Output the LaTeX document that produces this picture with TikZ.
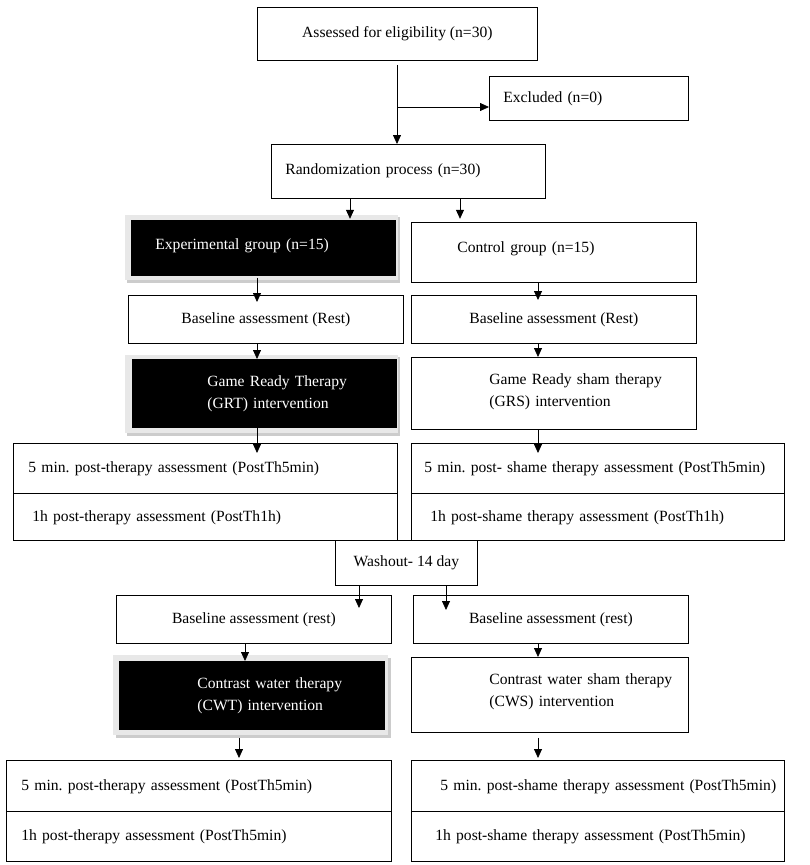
\documentclass[tikz,border=0pt]{standalone}
\usepackage{fontspec}
\setmainfont{Liberation Serif}
\usetikzlibrary{arrows.meta,calc}
\tikzset{
  box/.style={draw, line width=0.8pt, inner sep=0pt, rectangle, anchor=north west,
    font=\fontsize{15.6}{21}\selectfont\frenchspacing, align=center},
  blk/.style={fill=black, text=white},
  lft/.style={align=left},
  arr/.style={line width=0.8pt, -{Triangle[length=9pt,width=8pt]}},
  frm/.style={fill=black!9},
  shd/.style={fill=black!20},
}
\renewcommand{\arraystretch}{1.05}
% \bx{name}{x1}{y1}{w}{h}{style}{text}
\newcommand{\bx}[7]{\node[box,#6,minimum width=#4pt,minimum height=#5pt] (#1) at (#2,#3) {#7};}
% left aligned: \lbx{name}{x1}{y1}{w}{h}{pad}{style}{text}
\newcommand{\lbx}[8]{\node[box,lft,#7,minimum width=#4pt,minimum height=#5pt,text width=#4pt] (#1) at (#2,#3) {\hspace*{#6pt}\begin{tabular}{@{}l@{}}#8\end{tabular}};}
\begin{document}
\begin{tikzpicture}[x=1pt,y=-1pt]
\useasboundingbox (0,0) rectangle (809,865);
\fill[white] (0,0) rectangle (809,865);

% frames behind black boxes
\fill[shd] (127,217) rectangle (400,283);
\fill[frm] (125,215) rectangle (398,280);
\fill[shd] (127,357) rectangle (400,436);
\fill[frm] (125,355) rectangle (398,433);
\fill[shd] (116,658) rectangle (391,738);
\fill[frm] (113,655) rectangle (388,735);

\bx{assess}{257}{7}{280}{53}{}{Assessed for eligibility (n=30)}
\lbx{excl}{489}{76}{199}{44}{14}{}{Excluded (n=0)}
\lbx{rand}{271}{144}{274}{54}{14}{}{Randomization process (n=30)\\[2pt]}

\lbx{exp}{131}{220}{264}{55}{24}{blk}{Experimental group (n=15)\\[6pt]}
\lbx{ctrl}{411}{222}{285}{60}{46}{}{Control group (n=15)\\[8pt]}

\bx{base1}{128}{295}{275}{48}{}{Baseline assessment (Rest)}
\bx{base2}{411}{295}{285}{48}{}{Baseline assessment (Rest)}

\lbx{grt}{132}{359}{264}{68}{75}{blk}{Game Ready Therapy\\(GRT) intervention}
\lbx{grs}{411}{357}{285}{72}{78}{}{Game Ready sham therapy\\(GRS) intervention\\[5pt]}

\lbx{p1a}{13}{443}{384}{50}{15}{}{5 min. post-therapy assessment (PostTh5min)}
\lbx{p1b}{13}{493}{384}{47}{19}{}{1h post-therapy assessment (PostTh1h)}
\lbx{p2a}{411}{443}{373}{50}{13}{}{5 min. post- shame therapy assessment (PostTh5min)}
\lbx{p2b}{411}{493}{373}{47}{19}{}{1h post-shame therapy assessment (PostTh1h)}

\bx{wash}{335}{540}{142}{45}{}{Washout- 14 day}

\bx{base3}{116}{595}{275}{48}{}{Baseline assessment (rest)}
\bx{base4}{413}{595}{275}{48}{}{Baseline assessment (rest)}

\lbx{cwt}{119}{661}{265}{68}{78}{blk}{Contrast water therapy\\(CWT) intervention}
\lbx{cws}{411}{657}{277}{75}{78}{}{Contrast water sham therapy\\(CWS) intervention\\[7pt]}

\lbx{p3a}{6}{760}{385}{51}{15}{}{5 min. post-therapy assessment (PostTh5min)}
\lbx{p3b}{6}{811}{385}{50}{15}{}{1h post-therapy assessment (PostTh5min)}
\lbx{p4a}{411}{760}{373}{51}{29}{}{5 min. post-shame therapy assessment (PostTh5min)}
\lbx{p4b}{411}{811}{373}{50}{24}{}{1h post-shame therapy assessment (PostTh5min)}

% x positions for connectors
\coordinate (xa) at (397,0);
\coordinate (xl1) at (350,0);
\coordinate (xr1) at (460,0);
\coordinate (xl2) at (257,0);
\coordinate (xr2) at (538,0);
\coordinate (xl3) at (359,0);
\coordinate (xr3) at (446,0);
\coordinate (xl4) at (245,0);
\coordinate (xl5) at (239,0);
\coordinate (br) at (397,107);

\draw[line width=0.8pt] (assess.south -| xa) ++(0,4) -- (br);
\draw[arr] (br) -- (rand.north -| xa);
\draw[arr] (br) -- (excl.west |- br);

\draw[arr] (rand.south -| xl1) -- ++(0,20) coordinate (t1);
\draw[arr] (rand.south -| xr1) -- ++(0,20) coordinate (t2);

\draw[arr] ($(exp.south -| xl2)+(0,2)$) -- ($(base1.north -| xl2)+(0,7)$);
\draw[arr] (ctrl.south -| xr2) -- ($(base2.north -| xr2)+(0,5)$);
\draw[arr] (base1.south -| xl2) -- (grt.north -| xl2);
\draw[arr] (base2.south -| xr2) -- (grs.north -| xr2);
\draw[arr] (grt.south -| xl2) -- ($(p1a.north -| xl2)+(0,10)$);
\draw[arr] (grs.south -| xr2) -- ($(p2a.north -| xr2)+(0,10)$);

\draw[arr] (wash.south -| xl3) -- ($(base3.north -| xl3)+(0,13)$);
\draw[arr] (wash.south -| xr3) -- ($(base4.north -| xr3)+(0,15)$);

\draw[arr] (base3.south -| xl4) -- (cwt.north -| xl4);
\draw[arr] (base4.south -| xr2) -- (cws.north -| xr2);
\draw[arr] ($(cwt.south -| xl5)+(0,8)$) -- ($(p3a.north -| xl5)+(0,-2)$);
\draw[arr] ($(cws.south -| xr2)+(0,5)$) -- ($(p4a.north -| xr2)+(0,-2)$);
\end{tikzpicture}
\end{document}
